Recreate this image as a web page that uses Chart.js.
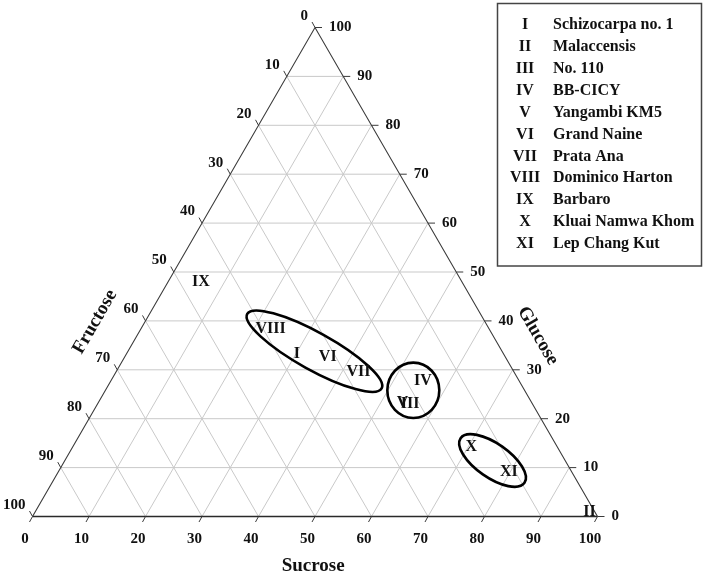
<!DOCTYPE html>
<html><head><meta charset="utf-8">
<script src="https://cdn.jsdelivr.net/npm/chart.js@4"></script>
<style>html,body{margin:0;padding:0;background:#fff;} canvas{display:block;}</style>
</head><body>
<canvas id="c" width="708" height="574"></canvas>
<script>
// ---- data ----
const cultivarNumerals = ['I','II','III','IV','V','VI','VII','VIII','IX','X','XI'];
const cultivarNames = ['Schizocarpa no. 1','Malaccensis','No. 110','BB-CICY','Yangambi KM5','Grand Naine','Prata Ana','Dominico Harton','Barbaro','Kluai Namwa Khom','Lep Chang Kut'];
const sucrose  = [30.2, 98.1, 55.3, 55.2, 53.9, 35.9, 42.9, 23.0,  5.8, 70.5, 79.7];
const glucose  = [33.2,  1.0, 23.1, 27.8, 23.2, 32.7, 29.6, 38.3, 48.0, 14.3,  9.2];
const fructose = [36.6,  0.9, 21.6, 17.0, 22.9, 31.4, 27.5, 38.7, 46.2, 15.2, 11.1];
const tickValues = [0,10,20,30,40,50,60,70,80,90,100];
// cluster outlines (centres in sucrose/glucose %)
const groupSucrose = [33.0, 54.5, 75.7];
const groupGlucose = [33.8, 25.8, 11.45];

// ---- shape/style settings ----
const ellipseShapes = [ {a:13.6, b:3.3, rot:29}, {a:4.6, b:4.9, rot:0}, {a:6.9, b:3.0, rot:35} ];
const FONT = '"Liberation Serif", "Times New Roman", serif';

function toXY(s, g, f) {
  const t = s + g + f;
  return { x: (s + g / 2) / t * 100, y: g / t * 100 };
}
const points = sucrose.map((s, i) => toXY(s, glucose[i], fructose[i]));

const ternaryPlugin = {
  id: 'ternary',
  beforeDatasetsDraw(chart) {
    const ctx = chart.ctx, xs = chart.scales.x, ys = chart.scales.y;
    const P = (x, y) => [xs.getPixelForValue(x), ys.getPixelForValue(y)];
    ctx.save();
    // grid
    ctx.strokeStyle = '#c9c9c9'; ctx.lineWidth = 1;
    tickValues.forEach(k => {
      if (k === 0 || k === 100) return;
      const segs = [
        [[k/2, k], [100 - k/2, k]],
        [[k, 0], [50 + k/2, 100 - k]],
        [[100 - k, 0], [(100 - k)/2, 100 - k]]
      ];
      segs.forEach(([a, b]) => {
        const p1 = P(a[0], a[1]), p2 = P(b[0], b[1]);
        ctx.beginPath(); ctx.moveTo(p1[0], p1[1]); ctx.lineTo(p2[0], p2[1]); ctx.stroke();
      });
    });
    // triangle sides
    const A = P(0, 0), B = P(100, 0), C = P(50, 100);
    ctx.strokeStyle = '#3a3a3a'; ctx.lineWidth = 1.1;
    ctx.beginPath(); ctx.moveTo(A[0], A[1]); ctx.lineTo(C[0], C[1]); ctx.lineTo(B[0], B[1]); ctx.stroke();
    ctx.lineWidth = 1.6; ctx.strokeStyle = '#2a2a2a';
    ctx.beginPath(); ctx.moveTo(A[0], A[1]); ctx.lineTo(B[0], B[1]); ctx.stroke();
    // ticks and labels
    ctx.fillStyle = '#111';
    ctx.font = 'bold 15px ' + FONT;
    ctx.textBaseline = 'middle';
    ctx.strokeStyle = '#3a3a3a'; ctx.lineWidth = 1;
    tickValues.forEach(v => {
      // Sucrose (bottom)
      let p = P(v, 0);
      ctx.beginPath(); ctx.moveTo(p[0], p[1]); ctx.lineTo(p[0] - 3, p[1] + 5.5); ctx.stroke();
      ctx.textAlign = 'center'; ctx.fillText(String(v), p[0] - 7.5, p[1] + 23);
      // Glucose (right)
      p = P(100 - v/2, v);
      ctx.beginPath(); ctx.moveTo(p[0], p[1]); ctx.lineTo(p[0] + 7, p[1]); ctx.stroke();
      ctx.textAlign = 'left'; ctx.fillText(String(v), p[0] + 14, p[1]);
      // Fructose (left)
      p = P((100 - v)/2, 100 - v);
      ctx.beginPath(); ctx.moveTo(p[0], p[1]); ctx.lineTo(p[0] - 3, p[1] - 5.5); ctx.stroke();
      ctx.textAlign = 'right'; ctx.fillText(String(v), p[0] - 7, p[1] - 11.5);
    });
    // axis titles
    ctx.font = 'bold 19px ' + FONT;
    ctx.textAlign = 'center';
    let t = P(49.67, -10.2);
    ctx.fillText('Sucrose', t[0], t[1]);
    t = P(11.07, 39.8);
    ctx.save(); ctx.translate(t[0], t[1]); ctx.rotate(-Math.PI / 3); ctx.fillText('Fructose', 0, 0); ctx.restore();
    t = P(89.43, 36.95);
    ctx.save(); ctx.translate(t[0], t[1]); ctx.rotate(Math.PI / 3); ctx.fillText('Glucose', 0, 0); ctx.restore();
    ctx.restore();
  },
  afterDatasetsDraw(chart) {
    const ctx = chart.ctx, xs = chart.scales.x, ys = chart.scales.y;
    const unit = (xs.getPixelForValue(100) - xs.getPixelForValue(0)) / 100;
    ctx.save();
    // cluster ellipses
    ctx.strokeStyle = '#000'; ctx.lineWidth = 2.6;
    groupSucrose.forEach((s, i) => {
      const c = toXY(s, groupGlucose[i], 100 - s - groupGlucose[i]);
      const sh = ellipseShapes[i];
      ctx.beginPath();
      ctx.ellipse(xs.getPixelForValue(c.x), ys.getPixelForValue(c.y), sh.a * unit, sh.b * unit, sh.rot * Math.PI / 180, 0, Math.PI * 2);
      ctx.stroke();
    });
    // point labels
    const meta = chart.getDatasetMeta(0);
    ctx.fillStyle = '#111';
    ctx.font = 'bold 16px ' + FONT;
    ctx.textAlign = 'center'; ctx.textBaseline = 'middle';
    meta.data.forEach((el, i) => {
      ctx.fillText(cultivarNumerals[i], el.x, el.y);
    });
    ctx.restore();
  },
  afterDraw(chart) {
    const ctx = chart.ctx;
    ctx.save();
    ctx.strokeStyle = '#444'; ctx.lineWidth = 1.5;
    ctx.strokeRect(497.5, 3.5, 204, 262.5);
    ctx.fillStyle = '#111';
    ctx.font = 'bold 16px ' + FONT;
    ctx.textBaseline = 'middle';
    cultivarNumerals.forEach((n, i) => {
      const y = 25 + i * 21.9;
      ctx.textAlign = 'center'; ctx.fillText(n, 525, y);
      ctx.textAlign = 'left'; ctx.fillText(cultivarNames[i], 553, y);
    });
    ctx.restore();
  }
};

new Chart(document.getElementById('c'), {
  type: 'scatter',
  data: {
    labels: cultivarNames,
    datasets: [{
      label: 'Cultivars',
      data: points,
      pointRadius: 0,
      pointHoverRadius: 0,
      showLine: false
    }]
  },
  options: {
    responsive: false,
    animation: false,
    events: [],
    layout: { padding: { left: 32.5, top: 27.5, right: 110.5, bottom: 57.5 } },
    scales: {
      x: { type: 'linear', min: 0, max: 100, display: false },
      y: { type: 'linear', min: 0, max: 100, display: false }
    },
    plugins: { legend: { display: false }, tooltip: { enabled: false } }
  },
  plugins: [ternaryPlugin]
});
</script>
</body></html>
